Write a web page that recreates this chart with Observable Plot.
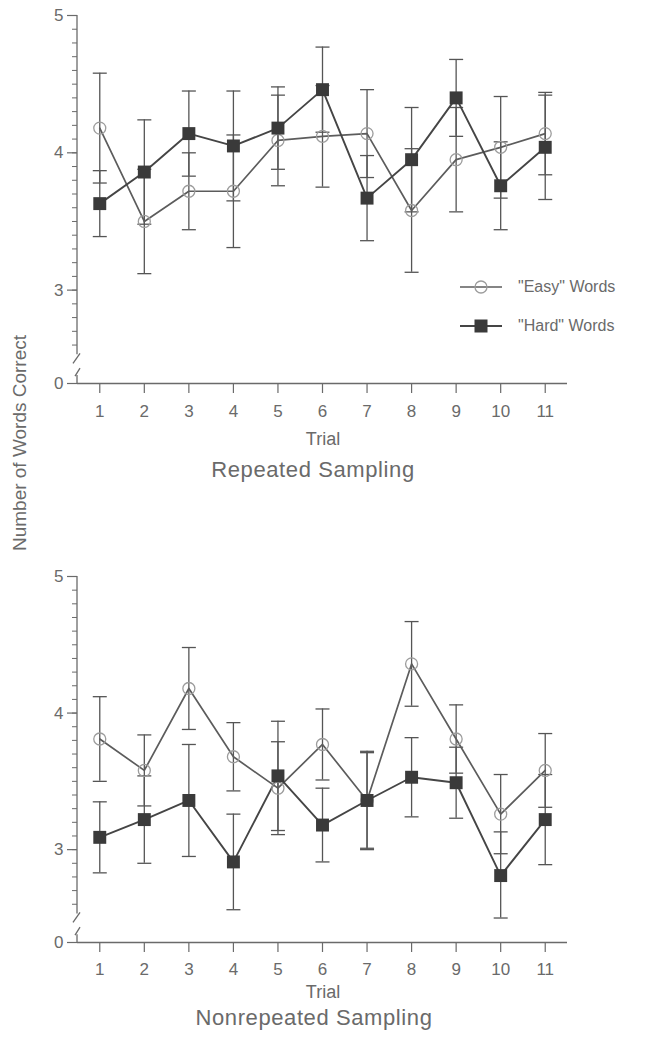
<!DOCTYPE html>
<html><head><meta charset="utf-8">
<script src="https://cdn.jsdelivr.net/npm/d3@7"></script>
<script src="https://cdn.jsdelivr.net/npm/@observablehq/plot@0.6"></script>
<style>
html,body{margin:0;padding:0;background:#fff;}
#wrap{position:relative;width:656px;height:1050px;font-family:"Liberation Sans",Arial,sans-serif;color:#6a6a6a;overflow:hidden;}
.abs{position:absolute;line-height:1;white-space:nowrap;}
</style></head><body><div id="wrap"></div>
<script>
// ---- data ----
const trials = [1, 2, 3, 4, 5, 6, 7, 8, 9, 10, 11];
const yTicks = [0, 3, 4, 5];
const seriesNames = ['"Easy" Words', '"Hard" Words'];
const panelTitles = ["Repeated Sampling", "Nonrepeated Sampling"];
const xLabel = "Trial";
const yLabel = "Number of Words Correct";

const repEasy    = [4.18, 3.50, 3.72, 3.72, 4.09, 4.12, 4.14, 3.58, 3.95, 4.04, 4.14];
const repEasyErr = [0.40, 0.38, 0.28, 0.41, 0.33, 0.37, 0.32, 0.45, 0.38, 0.37, 0.30];
const repHard    = [3.63, 3.86, 4.14, 4.05, 4.18, 4.46, 3.67, 3.95, 4.40, 3.76, 4.04];
const repHardErr = [0.24, 0.38, 0.31, 0.40, 0.30, 0.31, 0.31, 0.38, 0.28, 0.32, 0.38];

const nonEasy    = [3.81, 3.58, 4.18, 3.68, 3.45, 3.77, 3.36, 4.36, 3.81, 3.26, 3.58];
const nonEasyErr = [0.31, 0.26, 0.30, 0.25, 0.34, 0.26, 0.35, 0.31, 0.25, 0.29, 0.27];
const nonHard    = [3.09, 3.22, 3.36, 2.91, 3.54, 3.18, 3.36, 3.53, 3.49, 2.81, 3.22];
const nonHardErr = [0.26, 0.32, 0.41, 0.35, 0.40, 0.27, 0.36, 0.29, 0.26, 0.32, 0.33];

// broken y axis: values below breakHigh are squeezed into [zeroAt, breakHigh]
const breakHigh = 2.5;
const breakLow = 1.1;
const zeroAt = 2.32;
const yMax = 5;
const minorTicks = d3.range(26, 51).map(d => d / 10);

const toAxis = v => v >= breakHigh ? v : zeroAt + (v / breakHigh) * (breakHigh - zeroAt);
const fromAxis = a => a >= breakHigh - 1e-9 ? a : ((a - zeroAt) / (breakHigh - zeroAt)) * breakHigh;

// ---- helpers ----
function rows(means, errs) {
  return trials.map((t, i) => ({trial: t, mean: means[i], lo: means[i] - errs[i], hi: means[i] + errs[i]}));
}
const capSymbol = {draw(ctx, size) { const r = Math.sqrt(size / Math.PI); ctx.moveTo(-r, 0); ctx.lineTo(r, 0); }};

const AXIS = "#6a6a6a", LINE_E = "#5c5c5c", LINE_H = "#454545", BAR = "#555", CIRC = "#9c9c9c", SQ = "#3a3a3a";

function panel(easy, easyErr, hard, hardErr, geo) {
  const E = rows(easy, easyErr), H = rows(hard, hardErr);
  const height = 440;
  const Y = f => d => toAxis(d[f]);
  const axisBreak = (index, scales, values, dims) => {
    const g = d3.create("svg:g").attr("stroke", AXIS).attr("stroke-width", 1.3).attr("fill", "none");
    const x = dims.marginLeft;
    const y = v => scales.y(toAxis(v));
    const yu = y(breakHigh), yl = y(breakLow);
    g.append("path").attr("d", `M${x},${y(yMax)}V${yu - 4}`);
    g.append("path").attr("d", `M${x - 4},${yu + 5}L${x + 3},${yu - 5}`);
    g.append("path").attr("d", `M${x - 2},${yl + 4}L${x + 3},${yl - 4}`);
    g.append("path").attr("d", `M${x},${yl + 3}V${y(0)}`);
    return g.node();
  };
  return Plot.plot({
    width: 656, height,
    marginTop: geo.y5, marginLeft: 77, marginRight: 89, marginBottom: height - geo.y0,
    style: {color: AXIS, fontFamily: '"Liberation Sans", Arial, sans-serif', background: "transparent"},
    x: {domain: [0.5, 11.5], label: null},
    y: {domain: [toAxis(0), yMax], label: null},
    marks: [
      Plot.axisY({ticks: yTicks.map(toAxis), tickSize: 10, tickPadding: 4, fontSize: 17,
        tickFormat: a => String(Math.round(fromAxis(a))), stroke: AXIS, strokeWidth: 1.2}),
      Plot.axisY({ticks: minorTicks.map(toAxis), tickSize: 5, tickPadding: 0, tickFormat: () => "", stroke: AXIS, strokeWidth: 1}),
      Plot.axisX({ticks: trials, tickSize: 10, tickPadding: geo.xPad, fontSize: 17, tickFormat: d => String(d), stroke: AXIS, strokeWidth: 1.2}),
      Plot.ruleY([0], {y: toAxis, stroke: AXIS, strokeWidth: 1.4}),
      axisBreak,
      Plot.ruleX(E, {x: "trial", y1: Y("lo"), y2: Y("hi"), stroke: BAR, strokeWidth: 1.3}),
      Plot.dot(E, {x: "trial", y: Y("lo"), symbol: capSymbol, r: 7, stroke: BAR, strokeWidth: 1.3}),
      Plot.dot(E, {x: "trial", y: Y("hi"), symbol: capSymbol, r: 7, stroke: BAR, strokeWidth: 1.3}),
      Plot.ruleX(H, {x: "trial", y1: Y("lo"), y2: Y("hi"), stroke: BAR, strokeWidth: 1.3}),
      Plot.dot(H, {x: "trial", y: Y("lo"), symbol: capSymbol, r: 7, stroke: BAR, strokeWidth: 1.3}),
      Plot.dot(H, {x: "trial", y: Y("hi"), symbol: capSymbol, r: 7, stroke: BAR, strokeWidth: 1.3}),
      Plot.line(E, {x: "trial", y: Y("mean"), stroke: LINE_E, strokeWidth: 1.7}),
      Plot.line(H, {x: "trial", y: Y("mean"), stroke: LINE_H, strokeWidth: 1.9}),
      Plot.dot(E, {x: "trial", y: Y("mean"), r: 6, stroke: CIRC, fill: "none", strokeWidth: 1.3}),
      Plot.dot(H, {x: "trial", y: Y("mean"), symbol: "square", r: 7.3, fill: SQ, stroke: "none"})
    ]
  });
}

// ---- layout ----
const wrap = document.getElementById("wrap");
function place(node, top) {
  const d = document.createElement("div");
  d.style.position = "absolute"; d.style.left = "0px"; d.style.top = top + "px";
  d.appendChild(node); wrap.appendChild(d);
}
function label(text, cx, capTop, size, extra) {
  const d = document.createElement("div");
  d.className = "abs"; d.textContent = text;
  d.style.fontSize = size + "px";
  d.style.left = cx + "px"; d.style.top = (capTop - 0.13 * size) + "px";
  d.style.transform = "translateX(-50%)";
  if (extra) Object.assign(d.style, extra);
  wrap.appendChild(d);
}

place(panel(repEasy, repEasyErr, repHard, repHardErr, {y5: 15, y0: 383, xPad: 11}), 0);
place(panel(nonEasy, nonEasyErr, nonHard, nonHardErr, {y5: 15, y0: 381, xPad: 10}), 561);

label(xLabel, 323, 432, 18);
label(panelTitles[0], 313, 462, 22, {letterSpacing: "0.6px"});
label(xLabel, 323, 985, 18);
label(panelTitles[1], 314, 1010, 22, {letterSpacing: "0.6px"});

// y label (shared)
const yl = document.createElement("div");
yl.className = "abs"; yl.textContent = yLabel;
yl.style.fontSize = "19px";
yl.style.left = "19px"; yl.style.top = "443px";
yl.style.transform = "translate(-50%,-50%) rotate(-90deg)";
wrap.appendChild(yl);

// legend
const legendY = [287, 326];
seriesNames.forEach((name, i) => {
  const d = document.createElement("div");
  d.className = "abs";
  d.style.left = "460px"; d.style.top = (legendY[i] - 8) + "px";
  d.style.display = "flex"; d.style.alignItems = "center";
  const sym = i === 0
    ? `<circle cx="21" cy="8" r="6" fill="none" stroke="${CIRC}" stroke-width="1.3"/>`
    : `<rect x="14.5" y="1.5" width="13" height="13" fill="${SQ}"/>`;
  d.innerHTML = `<svg width="42" height="16"><line x1="0" x2="42" y1="8" y2="8" stroke="${i === 0 ? LINE_E : LINE_H}" stroke-width="${i === 0 ? 1.5 : 1.8}"/>${sym}</svg><span style="margin-left:16px;font-size:16px;">${name}</span>`;
  wrap.appendChild(d);
});
</script></body></html>
